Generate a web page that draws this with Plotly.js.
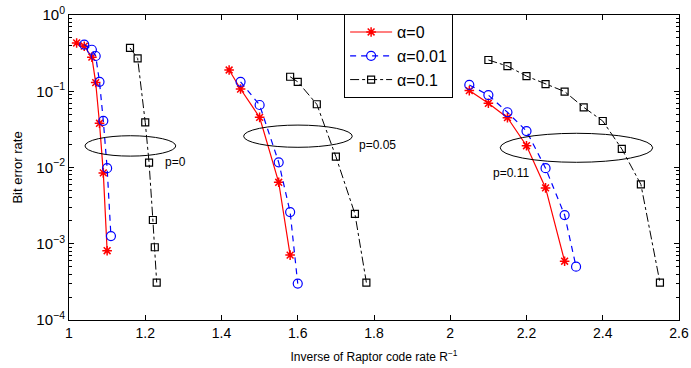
<!DOCTYPE html>
<html>
<head>
<meta charset="utf-8">
<script src="https://cdn.plot.ly/plotly-3.0.1.min.js"></script>
<style>html,body{margin:0;padding:0;background:#fff;}#chart{width:691px;height:368px;}</style>
</head>
<body>
<div id="chart"></div>
<script>
// alpha = 0 (red, asterisks)
const xA0 = [1.02, 1.04, 1.06, 1.07, 1.08, 1.09, 1.10, null, 1.42, 1.45, 1.50, 1.55, 1.58, null, 2.05, 2.10, 2.15, 2.20, 2.25, 2.30];
const yA0 = [0.43, 0.39, 0.28, 0.13, 0.038, 0.0085, 0.00081, null, 0.19, 0.107, 0.0455, 0.0064, 0.00071, null, 0.102, 0.0695, 0.045, 0.0193, 0.0054, 0.00059];
// alpha = 0.01 (blue, circles)
const xA1 = [1.04, 1.06, 1.07, 1.08, 1.09, 1.10, 1.11, null, 1.45, 1.50, 1.55, 1.58, 1.60, null, 2.05, 2.10, 2.15, 2.20, 2.25, 2.30, 2.33];
const yA1 = [0.41, 0.35, 0.29, 0.133, 0.041, 0.0098, 0.00126, null, 0.133, 0.066, 0.0117, 0.0026, 0.00030, null, 0.121, 0.089, 0.053, 0.030, 0.0098, 0.00238, 0.0005];
// alpha = 0.1 (black, squares)
const xA2 = [1.16, 1.18, 1.20, 1.21, 1.22, 1.225, 1.23, null, 1.58, 1.60, 1.65, 1.70, 1.75, 1.78, null, 2.10, 2.15, 2.20, 2.25, 2.30, 2.35, 2.40, 2.45, 2.50, 2.55];
const yA2 = [0.37, 0.27, 0.039, 0.0116, 0.00205, 0.0009, 0.00031, null, 0.155, 0.133, 0.0675, 0.0139, 0.00246, 0.00031, null, 0.257, 0.214, 0.158, 0.124, 0.099, 0.0616, 0.0407, 0.0175, 0.0060, 0.00031];

const seriesNames = ['α=0', 'α=0.01', 'α=0.1'];
const yTickVals = [1, 0.1, 0.01, 0.001, 0.0001];
const yTickText = ['10<sup>0</sup>', '10<sup>−1</sup>', '10<sup>−2</sup>', '10<sup>−3</sup>', '10<sup>−4</sup>'];

// ellipses around groups: [x0, x1, y0, y1] in data units
const ellipses = [
  [1.042, 1.280, 0.0141, 0.0261],
  [1.458, 1.743, 0.0184, 0.036],
  [2.131, 2.531, 0.0117, 0.0281]
];
const pLabels = ['p=0', 'p=0.05', 'p=0.11'];
const pLabelX = [1.279, 1.808, 2.160];
const pLabelY = [0.0117, 0.0197, 0.0084];

const minorVals = [];
for (let k = -4; k < 0; k++) for (let m = 2; m <= 9; m++) minorVals.push(m * Math.pow(10, k));

const font = 'Liberation Sans, Arial, sans-serif';

const traces = [
  {x: xA0, y: yA0, name: seriesNames[0], mode: 'lines+markers', connectgaps: false,
   line: {color: '#ff0000', width: 1.2},
   marker: {symbol: 'asterisk-open', size: 8, color: '#ff0000', line: {color: '#ff0000', width: 1.5}}},
  {x: xA1, y: yA1, name: seriesNames[1], mode: 'lines+markers', connectgaps: false,
   line: {color: '#0000ff', width: 1.2, dash: '6px,5px'},
   marker: {symbol: 'circle-open', size: 9, color: '#0000ff', line: {color: '#0000ff', width: 1.2}}},
  {x: xA2, y: yA2, name: seriesNames[2], mode: 'lines+markers', connectgaps: false,
   line: {color: '#000000', width: 1, dash: 'dashdot'},
   marker: {symbol: 'square-open', size: 7, color: '#000000', line: {color: '#000000', width: 1.2}}}
];

const shapes = ellipses.map(e => ({type: 'circle', xref: 'x', yref: 'y', x0: e[0], x1: e[1], y0: e[2], y1: e[3],
  line: {color: '#000', width: 1}}));

const annotations = pLabels.map((t, i) => ({text: t, x: pLabelX[i], y: Math.log10(pLabelY[i]), xref: 'x', yref: 'y',
  showarrow: false, font: {family: font, size: 12, color: '#000'}}));

const layout = {
  width: 691, height: 368,
  margin: {l: 69, r: 12, t: 15, b: 48},
  paper_bgcolor: '#fff', plot_bgcolor: '#fff',
  font: {family: font, size: 13, color: '#000'},
  showlegend: true,
  legend: {x: 0.451, y: 1.003, xanchor: 'left', yanchor: 'top', bgcolor: '#fff', bordercolor: '#000', borderwidth: 1,
    itemwidth: 42, font: {family: font, size: 16, color: '#000'}},
  xaxis: {range: [1, 2.6], dtick: 0.2, tick0: 1, showgrid: false, zeroline: false, showline: true, linecolor: '#000', linewidth: 1,
    mirror: 'ticks', ticks: 'inside', ticklen: 5, tickcolor: '#000',
    tickfont: {family: font, size: 14},
    title: {text: 'Inverse of Raptor code rate R<sup>−1</sup>', font: {family: font, size: 12}, standoff: 12}},
  yaxis: {type: 'log', range: [-4, 0], tickmode: 'array', tickvals: yTickVals, ticktext: yTickText,
    showgrid: false, zeroline: false, showline: true, linecolor: '#000', linewidth: 1,
    mirror: 'ticks', ticks: 'inside', ticklen: 5, tickcolor: '#000',
    tickfont: {family: font, size: 15},
    minor: {tickmode: 'array', tickvals: minorVals, ticks: 'inside', ticklen: 3, tickcolor: '#000', showgrid: false},
    title: {text: 'Bit error rate', font: {family: font, size: 13}, standoff: 10}},
  shapes: shapes,
  annotations: annotations
};

Plotly.newPlot('chart', traces, layout, {displayModeBar: false, staticPlot: true});
</script>
</body>
</html>
